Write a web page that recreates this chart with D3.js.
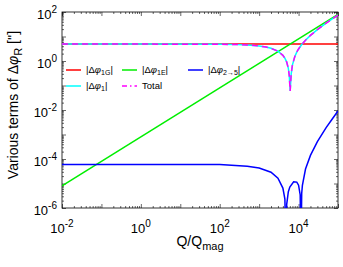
<!DOCTYPE html>
<html>
<head>
<meta charset="utf-8">
<script src="https://cdn.jsdelivr.net/npm/d3@7"></script>
<style>
body { margin: 0; background: #fff; }
text { font-family: "Liberation Sans", Arial, sans-serif; fill: #000; }
</style>
</head>
<body>
<div id="chart"></div>
<script>
// Axis ranges and tick labels
const xDomain = [1e-2, 1e5];
const yDomain = [1e-6, 1e2];
const xLabelExps = [-2, 0, 2, 4];
const yLabelExps = [-6, -4, -2, 0, 2];

// |dphi_1G| (flat)
const q1G = [1e-2, 1e5];
const phi1G = [4.9, 4.9];

// |dphi_1E| (straight line in log-log)
const q1E = [1e-2, 1e5];
const phi1E = [8e-6, 80];

// |dphi_1|
const q1 = [1e-2, 1, 100, 300, 600, 1000, 1500, 2000, 3000, 4000, 4500, 5000, 5500, 5800, 6000, 6125, 6250, 6500, 7000, 8000, 9000, 1e4, 1.2e4, 1.5e4, 2e4, 3e4, 5e4, 7e4, 1e5];
const phi1 = [4.9, 4.9, 4.82, 4.66, 4.42, 4.1, 3.7, 3.3, 2.5, 1.7, 1.3, 0.9, 0.5, 0.26, 0.1, 0.06, 0.1, 0.3, 0.7, 1.5, 2.3, 3.1, 4.7, 7.1, 11.1, 19.1, 35.1, 51.1, 75.1];

// Total
const qTotal = q1;
const phiTotal = [4.9, 4.9, 4.82, 4.66, 4.42, 4.1, 3.7, 3.3, 2.5, 1.7, 1.3, 0.9, 0.5, 0.26, 0.1, 0.06, 0.1, 0.3, 0.7, 1.5, 2.3, 3.1, 4.7, 7.1, 11.1, 19.1, 35.1, 51.1, 75.1];

// |dphi_2->5|
const q25 = [1e-2, 1, 10, 100, 500, 1000, 2000, 3000, 4000, 4500, 4800, 5000, 5500, 6000, 7500, 9000, 1e4, 1.1e4, 1.15e4, 1.2e4, 1.25e4, 1.5e4, 2e4, 3e4, 5e4, 7e4, 1e5];
const phi25 = [6e-5, 6e-5, 6e-5, 5.95e-5, 5.1e-5, 4.3e-5, 2.9e-5, 1.66e-5, 6.5e-6, 2.3e-6, 1e-8, 1.4e-6, 4.6e-6, 7.2e-6, 1.17e-5, 1.14e-5, 8.5e-6, 3.4e-6, 1e-8, 3.9e-6, 8.4e-6, 3.9e-5, 1.4e-4, 5.1e-4, 1.9e-3, 4.1e-3, 9.2e-3];

const W = 343, H = 267;
const margin = { top: 12, right: 5, bottom: 59, left: 62 };
const width = W - margin.left - margin.right;
const height = H - margin.top - margin.bottom;

const svg = d3.select("#chart").append("svg")
    .attr("width", W)
    .attr("height", H);

const g = svg.append("g")
    .attr("transform", `translate(${margin.left},${margin.top})`);

const x = d3.scaleLog().domain(xDomain).range([0, width]);
const y = d3.scaleLog().domain(yDomain).range([height, 0]);

g.append("clipPath").attr("id", "clip")
    .append("rect").attr("width", width).attr("height", height);

// decade and minor ticks
function decades(dom) {
    const out = [];
    for (let e = Math.round(Math.log10(dom[0])); e <= Math.round(Math.log10(dom[1])); e++) out.push(Math.pow(10, e));
    return out;
}
function minors(dom) {
    const out = [];
    decades(dom).forEach(d => {
        for (let k = 2; k <= 9; k++) if (d * k < dom[1]) out.push(d * k);
    });
    return out;
}

function drawAxis(axisFn, scale, vals, size, tr) {
    g.append("g")
        .attr("transform", tr)
        .call(axisFn(scale).tickValues(vals).tickSize(size).tickFormat(""))
        .call(a => a.select(".domain").remove())
        .selectAll("line").attr("stroke", "#000").attr("stroke-width", 0.6);
}

drawAxis(d3.axisBottom, x, decades(xDomain), -4, `translate(0,${height})`);
drawAxis(d3.axisBottom, x, minors(xDomain), -2, `translate(0,${height})`);
drawAxis(d3.axisTop, x, decades(xDomain), -4, "translate(0,0)");
drawAxis(d3.axisTop, x, minors(xDomain), -2, "translate(0,0)");
drawAxis(d3.axisLeft, y, decades(yDomain), -4, "translate(0,0)");
drawAxis(d3.axisLeft, y, minors(yDomain), -2, "translate(0,0)");
drawAxis(d3.axisRight, y, decades(yDomain), -4, `translate(${width},0)`);
drawAxis(d3.axisRight, y, minors(yDomain), -2, `translate(${width},0)`);

g.append("rect")
    .attr("width", width).attr("height", height)
    .attr("fill", "none").attr("stroke", "#000").attr("stroke-width", 0.8);

// tick labels with superscripts
xLabelExps.forEach(e => {
    const t = g.append("text")
        .attr("x", x(Math.pow(10, e)))
        .attr("y", height + 25)
        .attr("text-anchor", "middle")
        .style("font-size", "13px");
    t.append("tspan").text("10");
    t.append("tspan").attr("dy", -6).style("font-size", "10px").text(e);
});

yLabelExps.forEach(e => {
    const t = g.append("text")
        .attr("x", -5)
        .attr("y", y(Math.pow(10, e)) + 7)
        .attr("text-anchor", "end")
        .style("font-size", "13px");
    t.append("tspan").text("10");
    t.append("tspan").attr("dy", -6).style("font-size", "10px").text(e);
});

// axis titles
const xt = svg.append("text")
    .attr("x", margin.left + width / 2)
    .attr("y", H - 21)
    .attr("text-anchor", "middle")
    .style("font-size", "14px");
xt.append("tspan").text("Q/Q");
xt.append("tspan").attr("dy", 4).style("font-size", "11px").text("mag");

const yt = svg.append("text")
    .attr("transform", `translate(18,${margin.top + height / 2 - 5}) rotate(-90)`)
    .attr("text-anchor", "middle")
    .style("font-size", "14px");
yt.append("tspan").text("Various terms of \u0394");
yt.append("tspan").style("font-style", "italic").text("\u03c6");
yt.append("tspan").attr("dy", 4).style("font-size", "11px").text("R");
yt.append("tspan").attr("dy", -4).text(" ['']");

// curves
const line = d3.line()
    .x(d => x(d[0]))
    .y(d => y(d[1]));

const series = [
    { q: q1G, v: phi1G, color: "#ff0000", dash: null },
    { q: q1E, v: phi1E, color: "#00ee00", dash: null },
    { q: q25, v: phi25, color: "#0000ff", dash: null },
    { q: q1, v: phi1, color: "#00ffff", dash: null },
    { q: qTotal, v: phiTotal, color: "#ff00ff", dash: "6,4" }
];

const plot = g.append("g").attr("clip-path", "url(#clip)");
series.forEach(s => {
    plot.append("path")
        .datum(d3.zip(s.q, s.v))
        .attr("d", line)
        .attr("fill", "none")
        .attr("stroke", s.color)
        .attr("stroke-width", 1.5)
        .attr("stroke-dasharray", s.dash);
});

// legend
const legendItems = [
    { color: "#ff0000", dash: null, sub: "1G", x: 4, y: 58 },
    { color: "#00ee00", dash: null, sub: "1E", x: 60, y: 58 },
    { color: "#0000ff", dash: null, sub: "2\u21925", x: 126, y: 58 },
    { color: "#00ffff", dash: null, sub: "1", x: 4, y: 74 },
    { color: "#ff00ff", dash: "5,3,1.5,3", sub: null, x: 60, y: 74 }
];

const legend = g.append("g");
legendItems.forEach(d => {
    legend.append("line")
        .attr("x1", d.x).attr("x2", d.x + 15)
        .attr("y1", d.y).attr("y2", d.y)
        .attr("stroke", d.color)
        .attr("stroke-width", 1.5)
        .attr("stroke-dasharray", d.dash);
    const t = legend.append("text")
        .attr("x", d.x + 20)
        .attr("y", d.y + 3)
        .style("font-size", "9.5px");
    if (d.sub === null) {
        t.text("Total");
    } else {
        t.append("tspan").text("|\u0394");
        t.append("tspan").style("font-style", "italic").text("\u03c6");
        t.append("tspan").attr("dy", 2).style("font-size", "7px").text(d.sub);
        t.append("tspan").attr("dy", -2).text("|");
    }
});
</script>
</body>
</html>
